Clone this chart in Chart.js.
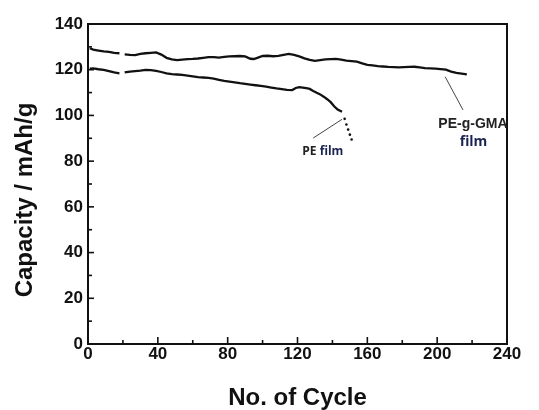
<!DOCTYPE html>
<html>
<head>
<meta charset="utf-8">
<script src="https://cdn.jsdelivr.net/npm/chart.js@4.4.1/dist/chart.umd.min.js"></script>
<style>
html,body{margin:0;padding:0;background:#fff;}
#wrap{width:539px;height:410px;position:relative;}
</style>
</head>
<body>
<div id="wrap"><canvas id="c" width="539" height="410"></canvas></div>
<script>
// PE-g-GMA film
const gmaCycles = [1,3,6,9,12,15,18,19.5,21,24,27,30,33,36,39,42,45,48,51,54,57,60,63,66,69,72,75,78,81,84,87,90,93,95,97,100,103,106,109,112,115,118,121,124,127,130,133,136,139,142,145,148,151,154,157,160,163,166,169,172,175,178,181,184,187,190,193,196,199,202,205,208,211,214,217];
const gmaCapacity = [129.4,128.8,128.4,128.0,127.8,127.4,127.2,null,126.7,126.5,126.4,126.9,127.2,127.4,127.6,126.6,125.2,124.5,124.2,124.4,124.6,124.7,124.9,125.2,125.5,125.5,125.3,125.6,125.8,125.9,126.0,125.8,124.8,124.7,125.2,126.0,126.1,125.9,126.1,126.5,126.9,126.5,125.8,125.0,124.3,123.9,124.2,124.5,124.6,124.7,124.4,124.0,123.8,123.5,122.8,122.1,121.9,121.6,121.4,121.2,121.1,121.0,121.1,121.2,121.3,121.0,120.7,120.6,120.5,120.3,120.0,119.2,118.6,118.3,118.0];
// PE film
const peCycles = [1,3,6,9,12,15,18,19.5,21,24,27,30,33,36,39,42,45,48,51,54,57,60,63,66,69,72,75,78,81,84,87,90,93,96,99,102,105,108,111,114,117,119,121,123,125,127,129,131,133,135,137,139,141,143,145.5,147,148,149,150,151];
const peCapacity = [120.5,120.6,120.2,119.9,119.4,118.8,118.4,null,118.8,119.2,119.4,119.6,119.9,119.8,119.5,119.0,118.4,118.1,117.9,117.7,117.4,117.1,116.8,116.6,116.4,116.1,115.6,115.1,114.8,114.5,114.1,113.8,113.5,113.2,112.9,112.6,112.2,111.8,111.5,111.2,111.1,112.0,112.4,112.2,111.9,111.6,110.7,109.9,109.2,108.2,107.1,105.8,104.0,102.6,101.6,98.5,96.0,93.8,91.6,89.5];
const xTickLabels = ['0','40','80','120','160','200','240'];
const yTickLabels = ['0','20','40','60','80','100','120','140'];
const xTitle = 'No. of Cycle';
const yTitle = 'Capacity / mAh/g';

function toPts(xs, ys){ return xs.map((x,i)=>({x:x, y:ys[i]})); }

const TAIL_START = 145.5;
const FONT = '"Liberation Sans", Arial, sans-serif';

const framePlugin = {
  id:'frame',
  afterDatasetsDraw(chart){
    const ctx = chart.ctx, a = chart.chartArea;
    const xs = chart.scales.x, ys = chart.scales.y;
    ctx.save();
    ctx.strokeStyle = '#111';
    ctx.lineWidth = 2;
    ctx.strokeRect(a.left, a.top, a.right - a.left, a.bottom - a.top);
    ctx.lineWidth = 1.6;
    xs.ticks.forEach(t=>{
      const px = xs.getPixelForValue(t.value);
      const len = (t.value % 40 === 0) ? 7 : 4;
      ctx.beginPath(); ctx.moveTo(px, a.bottom); ctx.lineTo(px, a.bottom - len); ctx.stroke();
    });
    ys.ticks.forEach(t=>{
      const py = ys.getPixelForValue(t.value);
      const len = (t.value % 20 === 0) ? 6 : 4;
      ctx.beginPath(); ctx.moveTo(a.left, py); ctx.lineTo(a.left + len, py); ctx.stroke();
    });
    // axis titles
    ctx.fillStyle = '#111';
    ctx.font = 'bold 24px ' + FONT;
    ctx.textAlign = 'center'; ctx.textBaseline = 'alphabetic';
    ctx.fillText(xTitle, (a.left + a.right)/2 + 0, a.bottom + 61);
    ctx.save();
    ctx.translate(32, (a.top + a.bottom)/2 + 16);
    ctx.rotate(-Math.PI/2);
    ctx.fillText(yTitle, 0, 0);
    ctx.restore();
    // annotations
    const P = (x,y)=>[xs.getPixelForValue(x), ys.getPixelForValue(y)];
    ctx.strokeStyle = '#444';
    ctx.lineWidth = 1;
    let p1 = P(204.6,116.9), p2 = P(214.8,102.4);
    ctx.beginPath(); ctx.moveTo(p1[0],p1[1]); ctx.lineTo(p2[0],p2[1]); ctx.stroke();
    p1 = P(129,90.1); p2 = P(145.5,98.3);
    ctx.beginPath(); ctx.moveTo(p1[0],p1[1]); ctx.lineTo(p2[0],p2[1]); ctx.stroke();
    ctx.textAlign = 'center'; ctx.textBaseline = 'middle';
    ctx.fillStyle = '#222';
    ctx.font = 'bold 14px ' + FONT;
    let t = P(220.5, 96.3); ctx.fillText('PE-g-GMA', t[0], t[1]);
    ctx.fillStyle = '#1b2450';
    ctx.font = 'bold 14px "Open Sans", "Liberation Sans", sans-serif';
    t = P(220.8, 88.5); ctx.fillText('film', t[0], t[1]);
    ctx.font = 'bold 12px "Open Sans", "Liberation Sans", sans-serif';
    t = P(134.5, 84.4);
    const w1 = ctx.measureText('PE ').width, w2 = ctx.measureText('film').width;
    ctx.textAlign = 'left';
    ctx.fillStyle = '#222';
    ctx.fillText('PE ', t[0] - (w1+w2)/2, t[1]);
    ctx.fillStyle = '#1b2450';
    ctx.fillText('film', t[0] - (w1+w2)/2 + w1, t[1]);
    ctx.restore();
  }
};

const tickFont = {family:FONT, size:17, weight:'bold'};

new Chart(document.getElementById('c'), {
  type:'scatter',
  data:{
    datasets:[
      {
        label:'PE-g-GMA film',
        data: toPts(gmaCycles, gmaCapacity),
        showLine:true, spanGaps:false,
        borderColor:'#111', borderWidth:2.3,
        pointRadius:0, backgroundColor:'#111'
      },
      {
        label:'PE film',
        data: toPts(peCycles, peCapacity),
        showLine:true, spanGaps:false,
        borderColor:'#111', borderWidth:2.3,
        backgroundColor:'#111', pointBorderWidth:0,
        pointRadius: c => (c.raw && c.raw.x > TAIL_START) ? 1.3 : 0,
        segment:{ borderColor: c => (c.p0.parsed.x >= TAIL_START ? 'rgba(0,0,0,0)' : '#111') }
      }
    ]
  },
  options:{
    responsive:false, animation:false,
    layout:{padding:{top:24, right:32, left:0, bottom:0}},
    plugins:{legend:{display:false}, tooltip:{enabled:false}},
    scales:{
      x:{
        type:'linear', min:0, max:240,
        ticks:{stepSize:20, color:'#111', font:tickFont, padding:0, maxRotation:0, autoSkip:false,
          callback:(v)=> (v % 40 === 0 && xTickLabels.includes(String(v))) ? String(v) : ''},
        grid:{display:false, drawTicks:false},
        border:{display:false},
        title:{display:false},
        afterFit:(s)=>{ s.height = 66; }
      },
      y:{
        type:'linear', min:0, max:140,
        ticks:{stepSize:10, color:'#111', font:tickFont, padding:5, autoSkip:false,
          callback:(v)=> (v % 20 === 0 && yTickLabels.includes(String(v))) ? String(v) : ''},
        grid:{display:false, drawTicks:false},
        border:{display:false},
        title:{display:false},
        afterFit:(s)=>{ s.width = 88; }
      }
    }
  },
  plugins:[framePlugin]
});
</script>
</body>
</html>
